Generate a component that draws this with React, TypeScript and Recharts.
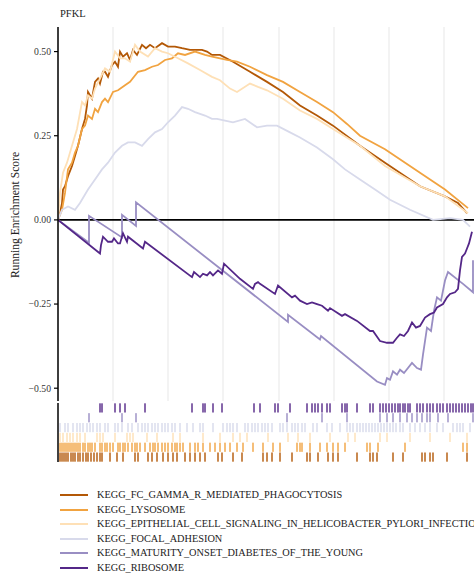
import React from "react"
import { LineChart, Line, XAxis, YAxis, CartesianGrid, ReferenceLine, ScatterChart, Scatter } from "recharts"

// gene rank axis (no labels shown in the figure)
const N_GENES = 20900
const GRID_TICKS = [2750, 5500, 8250, 11050, 13800, 16550, 19300]
const Y_TICKS = [-0.5, -0.25, 0, 0.25, 0.5]

const SET_NAMES = [
  "KEGG_FC_GAMMA_R_MEDIATED_PHAGOCYTOSIS",
  "KEGG_LYSOSOME",
  "KEGG_EPITHELIAL_CELL_SIGNALING_IN_HELICOBACTER_PYLORI_INFECTION",
  "KEGG_FOCAL_ADHESION",
  "KEGG_MATURITY_ONSET_DIABETES_OF_THE_YOUNG",
  "KEGG_RIBOSOME",
]
const SET_COLORS = ["#B35806", "#F1A340", "#FEE0B6", "#D8DAEB", "#998EC3", "#542788"]

// running enrichment score: [rank, score]
const fcGamma: [number, number][] = [
  [0, 0], [100, 0.02], [200, 0.05], [250, 0.09], [350, 0.1], [500, 0.13], [700, 0.16], [850, 0.19],
  [1000, 0.22], [1200, 0.27], [1350, 0.3], [1450, 0.34], [1500, 0.38], [1700, 0.36], [1850, 0.41],
  [2000, 0.42], [2100, 0.405], [2250, 0.44], [2350, 0.44], [2500, 0.425], [2700, 0.46], [2850, 0.47],
  [3000, 0.455], [3100, 0.5], [3250, 0.485], [3450, 0.495], [3600, 0.475], [3750, 0.505], [3950, 0.49],
  [4200, 0.52], [4400, 0.51], [4600, 0.52], [4850, 0.51], [5200, 0.525], [5500, 0.515], [5850, 0.515],
  [6200, 0.51], [6600, 0.505], [7200, 0.505], [7450, 0.5], [7700, 0.49], [8100, 0.49], [8750, 0.47],
  [9600, 0.44], [10450, 0.41], [11250, 0.38], [12100, 0.34], [12950, 0.31], [13750, 0.28],
  [15100, 0.22], [16350, 0.17], [18100, 0.1], [19350, 0.07], [20000, 0.05], [20450, 0.02],
]
const lysosome: [number, number][] = [
  [0, 0], [200, 0.03], [350, 0.08], [500, 0.15], [700, 0.17], [850, 0.2], [1000, 0.22], [1200, 0.27],
  [1350, 0.28], [1500, 0.31], [1700, 0.3], [1850, 0.33], [2000, 0.32], [2200, 0.35], [2350, 0.36],
  [2500, 0.35], [2750, 0.38], [3000, 0.385], [3350, 0.4], [3600, 0.41], [4000, 0.44], [4350, 0.445],
  [4700, 0.455], [5000, 0.46], [5350, 0.475], [5700, 0.48], [6000, 0.495], [6350, 0.49], [6850, 0.5],
  [7350, 0.49], [7700, 0.485], [8100, 0.48], [8450, 0.475], [8950, 0.47], [9600, 0.455], [10450, 0.43],
  [11250, 0.41], [12100, 0.38], [12950, 0.35], [13750, 0.32], [14450, 0.285], [15100, 0.25],
  [16350, 0.21], [18100, 0.14], [19350, 0.09], [20500, 0.035],
]
const epithelial: [number, number][] = [
  [0, 0], [100, 0.08], [250, 0.14], [450, 0.17], [700, 0.22], [950, 0.27], [1200, 0.35], [1350, 0.34],
  [1500, 0.37], [1700, 0.36], [1850, 0.39], [2100, 0.42], [2350, 0.45], [2600, 0.44], [2850, 0.5],
  [3100, 0.48], [3350, 0.48], [3600, 0.47], [3850, 0.52], [4100, 0.5], [4500, 0.485], [4850, 0.51],
  [5200, 0.5], [5500, 0.495], [6000, 0.48], [6500, 0.465], [7100, 0.445], [7700, 0.425], [8100, 0.415],
  [8600, 0.39], [8950, 0.38], [9600, 0.405], [10000, 0.395], [10450, 0.385], [11250, 0.36],
  [12100, 0.325], [12950, 0.3], [13750, 0.27], [15100, 0.22], [16350, 0.16], [18100, 0.1],
  [19350, 0.07], [20500, 0.02],
]
const focalAdhesion: [number, number][] = [
  [0, 0], [200, 0.03], [500, 0.04], [850, 0.03], [1100, 0.05], [1500, 0.09], [1850, 0.12], [2200, 0.15],
  [2500, 0.17], [2850, 0.2], [3200, 0.22], [3500, 0.23], [3850, 0.23], [4200, 0.22], [4500, 0.24],
  [4850, 0.26], [5200, 0.27], [5500, 0.29], [5850, 0.31], [6200, 0.335], [6500, 0.33], [6850, 0.32],
  [7350, 0.31], [7700, 0.3], [7950, 0.3], [8350, 0.295], [8750, 0.29], [9350, 0.3], [9950, 0.275],
  [10450, 0.28], [10950, 0.28], [11600, 0.26], [12100, 0.245], [12950, 0.215], [13750, 0.18],
  [14350, 0.15], [15100, 0.12], [15850, 0.09], [16600, 0.06], [17600, 0.03], [18750, 0], [19600, 0.005],
  [20250, 0], [20600, -0.02],
]
const maturityOnset: [number, number][] = [
  [0, 0], [1550, -0.068], [1550, 0.012], [3200, -0.052], [3200, 0.015], [3900, -0.018], [3900, 0.052],
  [11500, -0.303], [11500, -0.282], [13100, -0.355], [13150, -0.345], [15950, -0.48], [16350, -0.49],
  [16450, -0.47], [16600, -0.475], [16750, -0.45], [16950, -0.46], [17100, -0.445], [17300, -0.455],
  [17700, -0.425], [17950, -0.44], [18150, -0.445], [18250, -0.4], [18450, -0.32], [18650, -0.33],
  [18800, -0.27], [18950, -0.23], [19150, -0.24], [19350, -0.18], [19500, -0.155], [20250, -0.19],
  [20750, -0.215], [20750, -0.12],
]
const ribosome: [number, number][] = [
  [0, 0], [2100, -0.1], [2150, -0.075], [2250, -0.05], [2500, -0.065], [2700, -0.065], [2800, -0.055],
  [3000, -0.07], [3100, -0.07], [3250, -0.04], [3450, -0.065], [3500, -0.05], [4250, -0.085],
  [4350, -0.065], [6700, -0.17], [6800, -0.155], [7000, -0.165], [7100, -0.17], [7250, -0.16],
  [7450, -0.165], [7600, -0.155], [7750, -0.165], [8000, -0.15], [8200, -0.16], [8300, -0.13],
  [9100, -0.175], [9750, -0.205], [9850, -0.19], [10000, -0.185], [10100, -0.19], [10850, -0.22],
  [11000, -0.195], [11700, -0.23], [11850, -0.225], [12100, -0.24], [12450, -0.25], [12700, -0.245],
  [12950, -0.25], [13200, -0.255], [13500, -0.27], [13600, -0.262], [14200, -0.285], [14350, -0.28],
  [14950, -0.3], [15600, -0.33], [15750, -0.33], [16100, -0.36], [16450, -0.365], [16750, -0.365],
  [16950, -0.35], [17100, -0.34], [17300, -0.345], [17500, -0.33], [17700, -0.305], [17900, -0.32],
  [18100, -0.315], [18350, -0.29], [18600, -0.28], [18800, -0.275], [18950, -0.26], [19250, -0.25],
  [19450, -0.23], [19600, -0.22], [19850, -0.215], [20000, -0.205], [20100, -0.15], [20200, -0.11],
  [20350, -0.1], [20450, -0.085], [20550, -0.07], [20700, -0.035],
]

// gene set member positions in the ranked list
const fcGammaHits = [
  100, 200, 300, 400, 500, 650, 750, 850, 1000, 1100, 1250, 1400, 1500, 1650, 1800, 1950, 2100, 2200,
  2600, 2950, 3250, 3850, 4000, 4500, 4700, 4950, 5250, 5500, 5750, 5950, 6350, 6600, 6850, 7100, 7350,
  8000, 8200, 8750, 9200, 10250, 10450, 10700, 11100, 11700, 12450, 12600, 13000, 13500, 13750, 14000,
  14950, 15600, 15750, 15950, 16750, 17250, 18200, 18350, 18600, 18750, 19450, 20450,
]
const lysosomeHits = [
  100, 200, 300, 400, 500, 600, 700, 800, 900, 1000, 1100, 1250, 1350, 1500, 1600, 1700, 1850, 2100,
  2200, 2350, 2450, 2600, 2750, 3000, 3100, 3250, 3350, 3500, 3700, 3850, 3950, 4100, 4350, 4600, 4750,
  4850, 5000, 5200, 5350, 5500, 5700, 5850, 5950, 6100, 6250, 6600, 6850, 7000, 7250, 7600, 7850, 8100,
  8350, 8600, 8950, 9250, 9750, 10250, 10750, 11100, 11950, 12100, 12200, 12600, 13100, 13450, 13750,
  14000, 14350, 15450, 15600, 16000, 17350, 20250, 20450,
]
const epithelialHits = [
  100, 250, 450, 600, 750, 950, 1100, 1350, 1950, 2100, 2250, 2850, 3450, 3600, 3750, 4450, 4950, 5750,
  6100, 7250, 8100, 8750, 9100, 9450, 10500, 11500, 12000, 12600, 13600, 14500, 14850, 16100, 16450,
  17600, 18600, 19600, 20450,
]
const focalAdhesionHits = [
  100, 350, 500, 750, 950, 1100, 1250, 1450, 1600, 1750, 1950, 2100, 2350, 2500, 2850, 3000, 3200, 3500,
  3700, 4000, 4200, 4350, 4500, 4700, 4850, 5000, 5200, 5350, 5500, 5700, 5850, 6100, 6450, 6750, 7100,
  7250, 7750, 8250, 8450, 8600, 8750, 8950, 9350, 9500, 9700, 9850, 10000, 10200, 10350, 10500, 10700,
  11100, 11250, 11450, 11700, 11850, 12000, 12200, 12350, 12750, 12950, 13450, 13700, 14100, 14450,
  14600, 14750, 14950, 15100, 15250, 15400, 15550, 15700, 15850, 16000, 16150, 16300, 16450, 16600,
  16750, 16900, 17100, 17250, 17600, 17850, 18100, 18350, 18600, 18950, 19250, 19750, 19950, 20100,
  20250, 20600,
]
const maturityOnsetHits = [
  1550, 3200, 3900, 11450, 13200, 14450, 16100, 16450, 16750, 17100, 17450, 17700, 17950, 18200, 18450,
  18600, 19000, 19500, 20750,
]
const ribosomeHits = [
  2100, 2200, 2850, 3100, 3350, 4350, 6700, 7250, 7350, 7750, 8200, 9800, 10100, 10850, 11000, 11600,
  12450, 12700, 12850, 13000, 13200, 13450, 13600, 14200, 14350, 14450, 14950, 15600, 15750, 16100,
  16250, 16400, 16550, 16700, 16850, 17000, 17100, 17250, 17350, 17500, 17600, 17950, 18100, 18250,
  18450, 18600, 18750, 18950, 19100, 19250, 19450, 19600, 19750, 19900, 20050, 20200, 20350, 20500,
  20650, 20750,
]

const CURVES = [fcGamma, lysosome, epithelial, focalAdhesion, maturityOnset, ribosome]
const HITS = [fcGammaHits, lysosomeHits, epithelialHits, focalAdhesionHits, maturityOnsetHits, ribosomeHits]

const FONT = "'Liberation Serif', 'Times New Roman', serif"

const fmt = (v: number) => v.toFixed(2).replace("-", "\u2212")

export default function App() {
  const series = CURVES.map((c) => c.map(([x, y]) => ({ x, y })))
  const rugs = HITS.map((h, i) => h.map((x) => ({ x, row: i + 0.5 })))

  return (
    <div style={{ position: "absolute", left: 0, top: 0, width: 474, height: 576, overflow: "hidden", background: "#fff", fontFamily: FONT }}>
      <svg width={474} height={576} style={{ position: "absolute", left: 0, top: 0 }}>
        <text x={60} y={16.5} fontSize={10.5} fill="#222" fontFamily={FONT}>PFKL</text>
        <text
          x={19}
          y={215}
          fontSize={11.6}
          fill="#222"
          fontFamily={FONT}
          textAnchor="middle"
          transform="rotate(-90 19 215)"
        >
          Running Enrichment Score
        </text>
      </svg>

      <div style={{ position: "absolute", left: 0, top: 0 }}>
        <LineChart width={480} height={401} margin={{ top: 27, right: 4, bottom: 0, left: 0 }}>
          <CartesianGrid horizontal={false} stroke="#ebebeb" strokeWidth={1.2} />
          <XAxis type="number" dataKey="x" domain={[0, N_GENES]} ticks={GRID_TICKS} hide allowDataOverflow />
          <YAxis
            type="number"
            domain={[-0.538, 0.573]}
            ticks={Y_TICKS}
            width={58}
            tickFormatter={fmt}
            tickSize={4}
            tickMargin={3}
            axisLine={{ stroke: "#000", strokeWidth: 1.5 }}
            tickLine={{ stroke: "#000", strokeWidth: 1.2 }}
            tick={{ fontSize: 9.7, fill: "#333", fontFamily: FONT }}
            allowDataOverflow
          />
          <ReferenceLine y={0} stroke="#000" strokeWidth={1.6} />
          {series.map((pts, i) => (
            <Line
              key={SET_NAMES[i]}
              data={pts}
              dataKey="y"
              type="linear"
              stroke={SET_COLORS[i]}
              strokeWidth={1.8}
              dot={false}
              activeDot={false}
              isAnimationActive={false}
            />
          ))}
        </LineChart>
      </div>

      <div style={{ position: "absolute", left: 0, top: 403 }}>
        <ScatterChart width={480} height={59} margin={{ top: 0, right: 4, bottom: 0, left: 0 }}>
          <XAxis type="number" dataKey="x" domain={[0, N_GENES]} hide allowDataOverflow />
          <YAxis
            type="number"
            dataKey="row"
            domain={[0, 6]}
            width={58}
            tick={false}
            tickLine={false}
            axisLine={{ stroke: "#000", strokeWidth: 1.5 }}
          />
          {rugs.map((pts, i) => (
            <Scatter
              key={SET_NAMES[i]}
              data={pts}
              isAnimationActive={false}
              shape={(p: any) => (
                <rect x={p.cx - 0.7} y={p.cy - 4.6} width={1.4} height={9.2} fill={SET_COLORS[i]} />
              )}
            />
          ))}
        </ScatterChart>
      </div>

      <div style={{ position: "absolute", left: 60, top: 488 }}>
        {SET_NAMES.map((name, i) => (
          <div key={name} style={{ display: "flex", alignItems: "center", height: 14.5, whiteSpace: "nowrap" }}>
            <div style={{ width: 28, height: 2, background: SET_COLORS[i], marginRight: 9 }} />
            <span style={{ fontSize: 10.3, color: "#222", lineHeight: "14.5px" }}>{name}</span>
          </div>
        ))}
      </div>
    </div>
  )
}
